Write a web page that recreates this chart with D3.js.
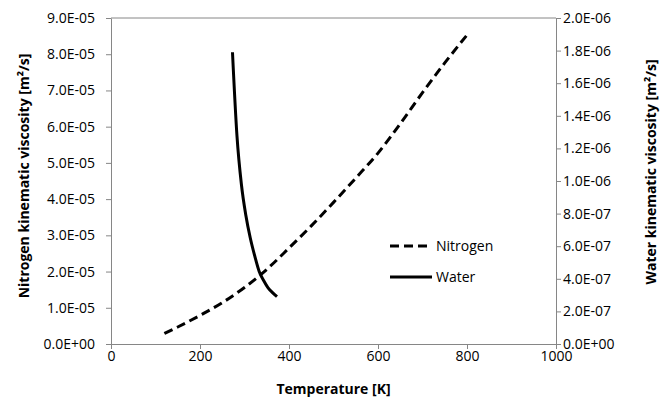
<!DOCTYPE html>
<html>
<head>
<meta charset="utf-8">
<script src="https://cdn.jsdelivr.net/npm/d3@7"></script>
<style>
  body { margin: 0; background: #fff; }
  svg text { font-family: "Open Sans", sans-serif; fill: #000; }
</style>
</head>
<body>
<div id="chart"></div>
<script>
// Data
const temperatureTicks = [0, 200, 400, 600, 800, 1000];
const nitrogenTicks = [0, 1e-5, 2e-5, 3e-5, 4e-5, 5e-5, 6e-5, 7e-5, 8e-5, 9e-5];
const waterTicks = [0, 2e-7, 4e-7, 6e-7, 8e-7, 1e-6, 1.2e-6, 1.4e-6, 1.6e-6, 1.8e-6, 2e-6];

const nitrogenTemp = [120, 150, 200, 250, 300, 350, 400, 450, 500, 550, 600, 650, 700, 750, 800];
const nitrogenVisc = [2.9e-6, 4.7e-6, 7.9e-6, 11.4e-6, 15.6e-6, 20.6e-6, 26.5e-6, 32.6e-6,
                      39.1e-6, 45.8e-6, 52.7e-6, 60.8e-6, 69.4e-6, 77.6e-6, 85.3e-6];

const waterTemp = [273, 283, 293, 303, 313, 323, 333, 343, 353, 363, 373];
const waterVisc = [1.79e-6, 1.28e-6, 0.98e-6, 0.79e-6, 0.65e-6, 0.54e-6, 0.445e-6,
                   0.39e-6, 0.345e-6, 0.315e-6, 0.29e-6];

const width = 670, height = 397;
const plotLeft = 111, plotRight = 556, plotTop = 18, plotBottom = 344;
const axisColor = '#868686';

// Excel style scientific labels, e.g. 9.0E-05
function sci(v) {
    if (v === 0) return '0.0E+00';
    const [m, e] = d3.format('.1e')(v).split('e');
    const n = +e;
    return m + 'E' + (n < 0 ? '-' : '+') + String(Math.abs(n)).padStart(2, '0');
}

const svg = d3.select('#chart')
    .append('svg')
    .attr('width', width)
    .attr('height', height);

const x = d3.scaleLinear().domain([0, 1000]).range([plotLeft, plotRight]);
const yN = d3.scaleLinear().domain([0, 9e-5]).range([plotBottom, plotTop]);
const yW = d3.scaleLinear().domain([0, 2e-6]).range([plotBottom, plotTop]);

// top border of the plot area
svg.append('line')
    .attr('x1', plotLeft).attr('x2', plotRight)
    .attr('y1', plotTop).attr('y2', plotTop)
    .attr('stroke', axisColor);

function styleAxis(g) {
    g.selectAll('path, line').attr('stroke', axisColor);
    g.selectAll('text').attr('font-size', 14).attr('fill', '#000')
        .attr('font-family', '"Open Sans", sans-serif');
}

svg.append('g')
    .attr('transform', `translate(0,${plotBottom})`)
    .call(d3.axisBottom(x).tickValues(temperatureTicks).tickFormat(d3.format('d'))
        .tickSize(5).tickSizeOuter(0).tickPadding(2))
    .call(styleAxis);

svg.append('g')
    .attr('transform', `translate(${plotLeft},0)`)
    .call(d3.axisLeft(yN).tickValues(nitrogenTicks).tickFormat(sci).tickSize(5).tickSizeOuter(0).tickPadding(11))
    .call(styleAxis);

svg.append('g')
    .attr('transform', `translate(${plotRight},0)`)
    .call(d3.axisRight(yW).tickValues(waterTicks).tickFormat(sci).tickSize(5).tickSizeOuter(0).tickPadding(2))
    .call(styleAxis);

// axis titles
svg.append('text')
    .attr('x', (plotLeft + plotRight) / 2).attr('y', 394)
    .attr('text-anchor', 'middle')
    .attr('font-size', 14).attr('font-weight', 'bold')
    .text('Temperature [K]');

svg.append('text')
    .attr('transform', 'translate(29,176) rotate(-90)')
    .attr('text-anchor', 'middle')
    .attr('font-size', 14).attr('font-weight', 'bold')
    .text('Nitrogen kinematic viscosity [m²/s]');

svg.append('text')
    .attr('transform', 'translate(656,172) rotate(-90)')
    .attr('text-anchor', 'middle')
    .attr('font-size', 14).attr('font-weight', 'bold')
    .text('Water kinematic viscosity [m²/s]');

// series
const nitrogenLine = d3.line()
    .x((d, i) => x(nitrogenTemp[i]))
    .y(d => yN(d))
    .curve(d3.curveMonotoneX);

const waterLine = d3.line()
    .x((d, i) => x(waterTemp[i]))
    .y(d => yW(d))
    .curve(d3.curveMonotoneX);

svg.append('path')
    .datum(nitrogenVisc)
    .attr('d', nitrogenLine)
    .attr('fill', 'none')
    .attr('stroke', '#000')
    .attr('stroke-width', 3)
    .attr('stroke-dasharray', '9,5');

svg.append('path')
    .datum(waterVisc)
    .attr('d', waterLine)
    .attr('fill', 'none')
    .attr('stroke', '#000')
    .attr('stroke-width', 3);

// legend
const legend = [
    { name: 'Nitrogen', dash: '9,5', y: 246 },
    { name: 'Water', dash: null, y: 277 }
];

legend.forEach(d => {
    svg.append('line')
        .attr('x1', 390).attr('x2', 432)
        .attr('y1', d.y).attr('y2', d.y)
        .attr('stroke', '#000')
        .attr('stroke-width', 3)
        .attr('stroke-dasharray', d.dash);
    svg.append('text')
        .attr('x', 436).attr('y', d.y + 5)
        .attr('font-size', 14)
        .text(d.name);
});
</script>
</body>
</html>
